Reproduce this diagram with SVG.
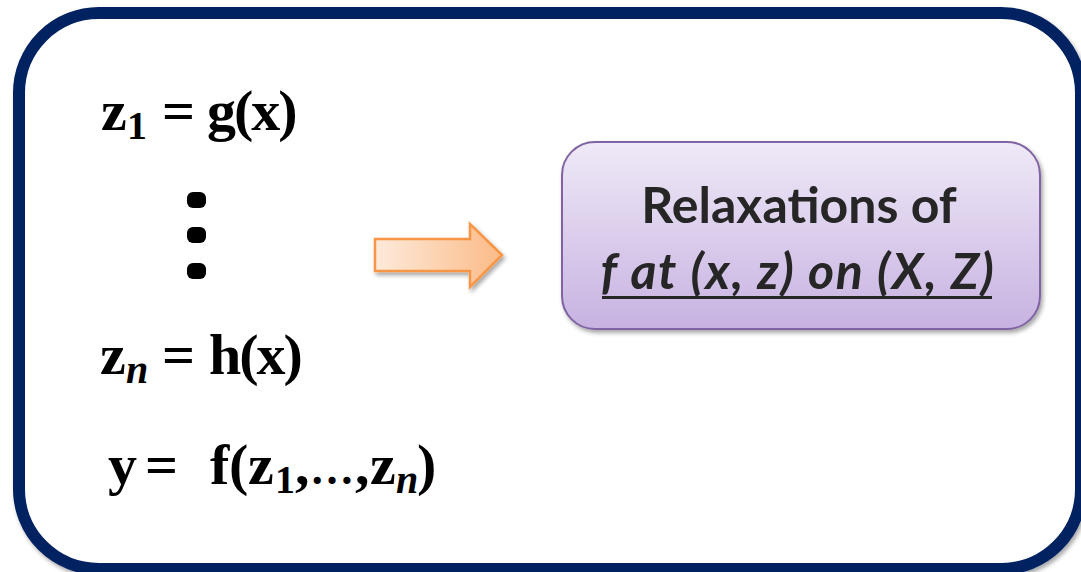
<svg xmlns="http://www.w3.org/2000/svg" width="1081" height="572" viewBox="0 0 1081 572">
  <defs>
    <filter id="shadow" x="-10%" y="-10%" width="120%" height="130%">
      <feDropShadow dx="2" dy="3" stdDeviation="2.2" flood-color="#000" flood-opacity="0.35"/>
    </filter>
    <linearGradient id="arrowGrad" x1="0" y1="0" x2="1" y2="0">
      <stop offset="0" stop-color="#fdeadb"/>
      <stop offset="1" stop-color="#fbbb87"/>
    </linearGradient>
    <linearGradient id="boxGrad" x1="0" y1="0" x2="0" y2="1">
      <stop offset="0" stop-color="#efe9f7"/>
      <stop offset="1" stop-color="#c7b2e1"/>
    </linearGradient>
  </defs>
  <style>
    .math { font-family: "Liberation Serif", "Times New Roman", serif; font-weight: bold; fill: #000; }
    .big { font-size: 58px; }
    .sub { font-size: 40px; }
    .it { font-style: italic; }
    .tight { letter-spacing: -2px; }
    .label { font-family: Lato, "Liberation Sans", sans-serif; font-weight: bold; font-size: 50px; fill: #262626; text-anchor: middle; }
  </style>
  <rect width="1081" height="572" fill="#ffffff"/>

  <g id="frame">
    <rect x="19" y="13" width="1062" height="556" rx="80" ry="80" fill="#ffffff" stroke="#002060" stroke-width="12" filter="url(#shadow)"/>
  </g>

  <g id="equations">
    <text class="math big" x="101" y="130">z</text>
    <text class="math sub" x="127" y="139">1</text>
    <text class="math big" x="162" y="130">=</text>
    <text class="math big tight" x="207" y="130">g(x)</text>

    <g id="dots" fill="#000">
      <rect x="187" y="192" width="19" height="16" rx="6"/>
      <rect x="187" y="227" width="19" height="16" rx="6"/>
      <rect x="187" y="263" width="19" height="16" rx="6"/>
    </g>

    <text class="math big" x="100" y="374">z</text>
    <text class="math sub it" x="126" y="383">n</text>
    <text class="math big" x="162" y="374">=</text>
    <text class="math big tight" x="209" y="374">h(x)</text>

    <text class="math big" x="108" y="484">y</text>
    <text class="math big" x="145" y="484">=</text>
    <text class="math big" x="210" y="484">f</text>
    <text class="math big" x="229" y="484">(</text>
    <text class="math big" x="248" y="484">z</text>
    <text class="math sub" x="275" y="493">1</text>
    <text class="math big" x="295" y="484">,</text>
    <text class="math" font-size="44" x="310" y="484">…</text>
    <text class="math big" x="355" y="484">,</text>
    <text class="math big" x="370" y="484">z</text>
    <text class="math sub it" x="396" y="493">n</text>
    <text class="math big" x="417" y="484">)</text>
  </g>

  <g id="connectors">
    <path d="M375,239 L470,239 L470,224 L502,255 L470,287 L470,271 L375,271 Z" fill="url(#arrowGrad)" stroke="#f79646" stroke-width="2.5" stroke-linejoin="miter" filter="url(#shadow)"/>
  </g>

  <g id="relaxations">
    <rect x="562" y="142" width="478" height="187" rx="33" ry="33" fill="url(#boxGrad)" stroke="#8064a2" stroke-width="2" filter="url(#shadow)"/>
    <text class="label" x="799" y="223">Relaxations of</text>
    <text class="label" x="798" y="289" font-style="italic" letter-spacing="1.6">f at (x, z) on (X, Z)</text>
    <line x1="602" y1="297.5" x2="992" y2="297.5" stroke="#262626" stroke-width="3"/>
  </g>
</svg>
